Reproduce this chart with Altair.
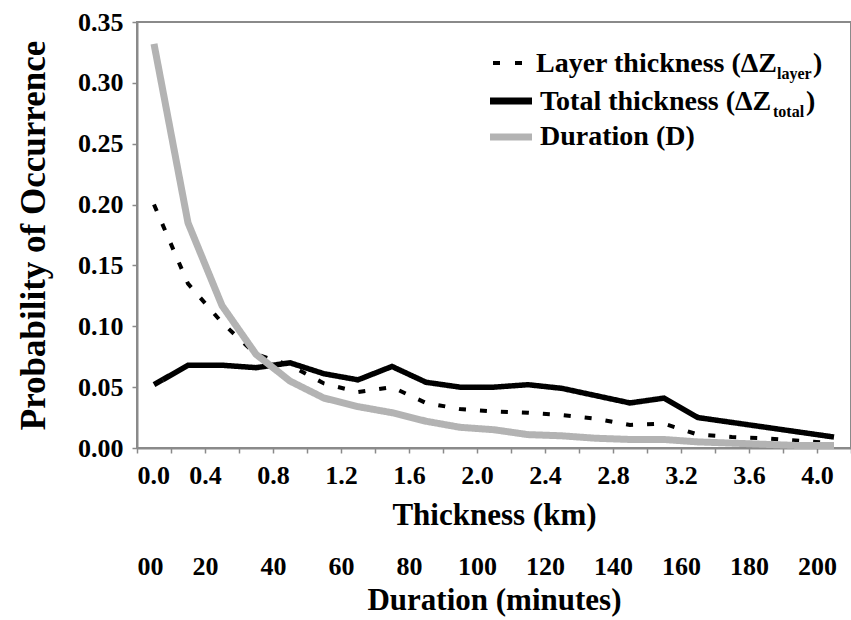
import altair as alt
import pandas as pd

# ---------------- data ----------------
thickness_km = [0.1, 0.3, 0.5, 0.7, 0.9, 1.1, 1.3, 1.5, 1.7, 1.9, 2.1,
                2.3, 2.5, 2.7, 2.9, 3.1, 3.3, 3.5, 3.7, 3.9, 4.1]
layer_thickness = [0.200, 0.135, 0.103, 0.077, 0.068, 0.053, 0.046, 0.050, 0.037, 0.032, 0.030,
                   0.029, 0.027, 0.024, 0.019, 0.020, 0.011, 0.009, 0.008, 0.006, 0.004]
total_thickness = [0.052, 0.068, 0.068, 0.066, 0.070, 0.061, 0.056, 0.067, 0.054, 0.050, 0.050,
                   0.052, 0.049, 0.043, 0.037, 0.041, 0.025, 0.021, 0.017, 0.013, 0.009]
duration = [0.332, 0.185, 0.117, 0.077, 0.055, 0.041, 0.034, 0.029, 0.022, 0.017, 0.015,
            0.011, 0.010, 0.008, 0.007, 0.007, 0.005, 0.004, 0.003, 0.002, 0.002]

series_names = ["Layer", "Total", "Duration"]
y_ticks = [0.0, 0.05, 0.10, 0.15, 0.20, 0.25, 0.30, 0.35]
x_ticks = [0.0, 0.2, 0.4, 0.6, 0.8, 1.0, 1.2, 1.4, 1.6, 1.8, 2.0,
           2.2, 2.4, 2.6, 2.8, 3.0, 3.2, 3.4, 3.6, 3.8, 4.0, 4.2]
minute_ticks = [0, 20, 40, 60, 80, 100, 120, 140, 160, 180, 200]

FONT = "Liberation Serif"
GRAY_AXIS = "#8a8a8a"
GRAY_LINE = "#b3b3b3"

df = pd.DataFrame({
    "km": thickness_km,
    "Layer": layer_thickness,
    "Total": total_thickness,
    "Duration": duration,
})

# ---------------- main series ----------------
lines = alt.Chart(df).transform_fold(
    series_names, as_=["series", "prob"]
).mark_line(strokeCap="butt", strokeJoin="miter").encode(
    x=alt.X("km:Q",
            scale=alt.Scale(domain=[0, 4.2], nice=False, zero=False),
            axis=alt.Axis(values=x_ticks,
                          labelExpr="abs(round(datum.value*10) % 4) == 0 ? format(datum.value, '.1f') : ''",
                          title="Thickness (km)", titlePadding=12,
                          labelFont=FONT, titleFont=FONT)),
    y=alt.Y("prob:Q",
            scale=alt.Scale(domain=[0, 0.35], nice=False),
            axis=alt.Axis(values=y_ticks, format=".2f",
                          title="Probability of Occurrence",
                          titleFontSize=35, titlePadding=26,
                          labelFont=FONT, titleFont=FONT)),
    color=alt.Color("series:N", scale=alt.Scale(domain=series_names,
                                                range=["black", "black", GRAY_LINE]), legend=None),
    strokeDash=alt.StrokeDash("series:N", scale=alt.Scale(domain=series_names,
                                                          range=[[7, 14], [1, 0], [1, 0]]), legend=None),
    strokeWidth=alt.StrokeWidth("series:N", scale=alt.Scale(domain=series_names,
                                                            range=[4, 7, 6.5]), legend=None),
    order=alt.Order("km:Q"),
)

# ---------------- second (minutes) axis ----------------
minutes_axis = alt.Chart(pd.DataFrame({"minutes": minute_ticks})).mark_point(opacity=0).encode(
    x=alt.X("minutes:Q",
            scale=alt.Scale(domain=[0, 210], nice=False, zero=False),
            axis=alt.Axis(orient="bottom", offset=96, values=minute_ticks,
                          labelExpr="datum.value == 0 ? '00' : datum.label",
                          domain=False, ticks=False,
                          title="Duration (minutes)", titlePadding=6,
                          labelFont=FONT, titleFont=FONT)),
    y=alt.value(0),
)

# ---------------- custom legend ----------------
def txt(s, x, y, size=28):
    return alt.Chart(pd.DataFrame({"t": [s]})).mark_text(
        font=FONT, fontWeight="bold", fontSize=size, align="left",
        baseline="alphabetic", color="black"
    ).encode(text="t:N", x=alt.value(x), y=alt.value(y))


def sym(x1, x2, y, color, width, dash=None):
    kw = dict(color=color, strokeWidth=width, strokeCap="butt")
    if dash:
        kw["strokeDash"] = dash
    return alt.Chart(pd.DataFrame({"t": [0]})).mark_rule(**kw).encode(
        x=alt.value(x1), x2=alt.value(x2), y=alt.value(y))


legend_layers = [
    sym(493 - 137, 525 - 137, 63 - 22, "black", 4, [7, 15]),
    txt("Layer thickness (\u0394Z", 536 - 137, 72 - 22),
    txt("layer", 777 - 137, 79 - 22, 16),
    txt(")", 813 - 137, 72 - 22),
    sym(490 - 137, 532 - 137, 101 - 22, "black", 7),
    txt("Total thickness (\u0394Z", 540 - 137, 110 - 22),
    txt("total", 773 - 137, 117 - 22, 16),
    txt(")", 806 - 137, 110 - 22),
    sym(490 - 137, 532 - 137, 137 - 22, GRAY_LINE, 7),
    txt("Duration (D)", 540 - 137, 145 - 22),
]

chart = alt.layer(lines, minutes_axis, *legend_layers).resolve_scale(
    x="independent"
).properties(
    width=714, height=426,
    autosize=alt.AutoSizeParams(type="none"),
    padding={"left": 137, "top": 22, "right": 0, "bottom": 172},
    background="white",
).configure(font=FONT).configure_axis(
    labelFont=FONT, labelFontSize=26, labelFontWeight="bold", labelColor="black",
    titleFont=FONT, titleFontSize=31, titleFontWeight="bold", titleColor="black",
    domainColor=GRAY_AXIS, domainWidth=2, tickColor=GRAY_AXIS, tickWidth=1.5,
    tickSize=5, labelPadding=9, grid=False,
).configure_view(stroke=GRAY_AXIS, strokeWidth=2)

chart.save("out.html", embed_options={"renderer": "svg", "actions": False})
